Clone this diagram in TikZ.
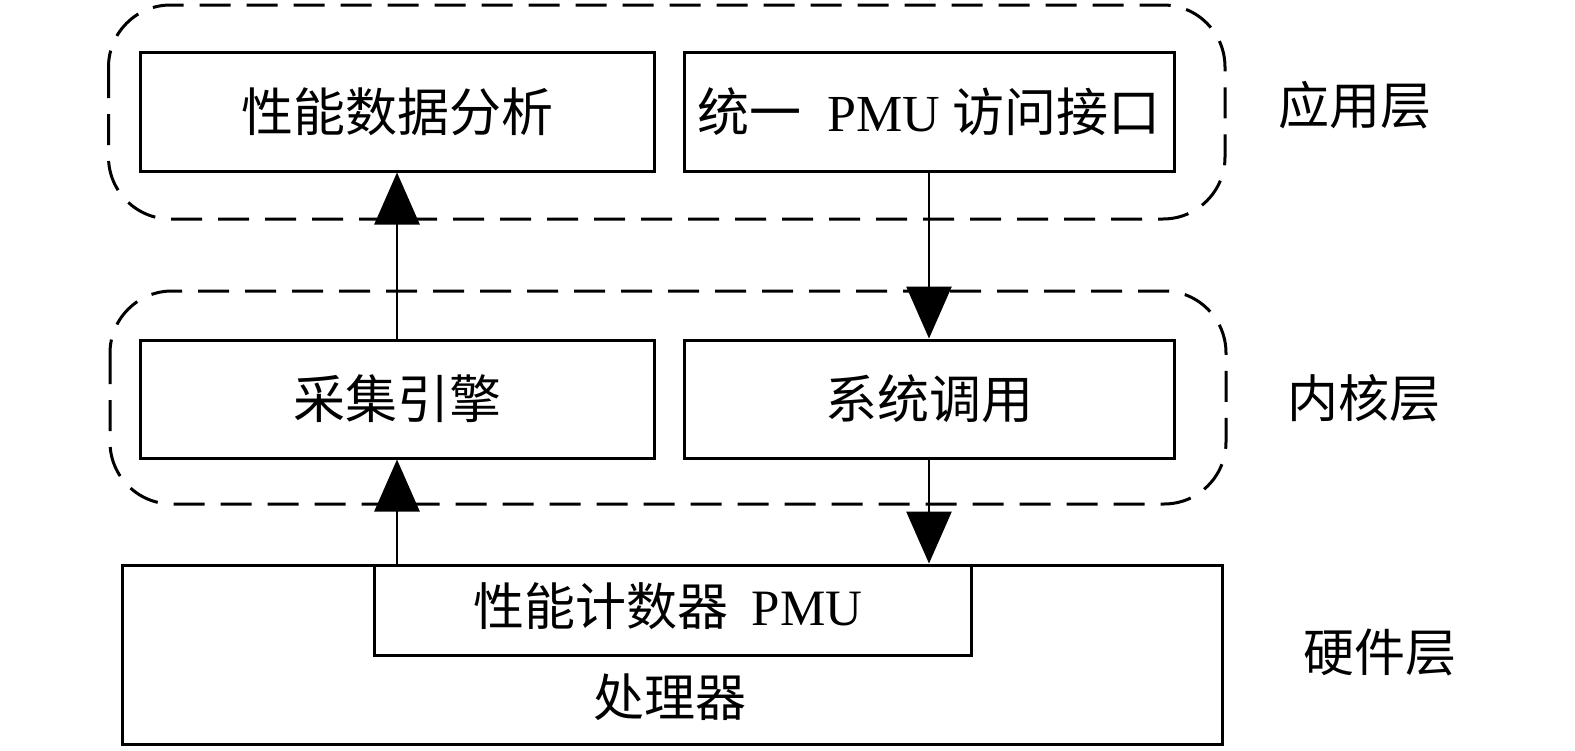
\documentclass[tikz,border=0pt]{standalone}
\usepackage{fontspec}
\setmainfont{Liberation Serif}
\newfontfamily\cjk{Noto Sans CJK SC}
\usetikzlibrary{arrows.meta}
\begin{document}
\begin{tikzpicture}[x=1pt,y=-1pt,
  box/.style={draw,line width=3pt,inner sep=0pt,font=\fontsize{52}{60}\selectfont},
  layer/.style={draw,line width=3pt,dash pattern=on 31pt off 16pt,rounded corners=62pt},
  lbl/.style={inner sep=0pt,font=\fontsize{51}{60}\selectfont\cjk},
  conn/.style={line width=2.8pt,-{Triangle[width=45pt,length=52pt]}}]
\useasboundingbox (0,0) rectangle (1575,750);
% layer groups
\draw[layer] (108.5,5) rectangle (1225,219);
\draw[layer] (110,291) rectangle (1226,504);
% boxes
\node[box,minimum width=514pt,minimum height=119pt] (ana) at (397,111.5) {\cjk 性能数据分析};
\node[box,minimum width=490pt,minimum height=119pt] (api) at (929,111.5) {{\cjk 统一}\ \ PMU {\cjk 访问接口}};
\node[box,minimum width=514pt,minimum height=118pt] (eng) at (397,399) {\cjk 采集引擎};
\node[box,minimum width=490pt,minimum height=118pt] (sys) at (929,399) {\cjk 系统调用};
\node[box,minimum width=1100pt,minimum height=179pt] (cpu) at (672,654.5) {};
\node[box,minimum width=597pt,minimum height=90pt] (pmu) at (672.5,610) {};
\node[lbl] (pmut) at (668,606) {性能计数器\ \ \fontspec{Liberation Serif}PMU};
\node[lbl] (cput) at (670,697) {处理器};
% layer labels
\node[lbl] (l1) at (1355,105) {应用层};
\node[lbl] (l2) at (1364,398) {内核层};
\node[lbl] (l3) at (1380,652) {硬件层};
% connectors
\draw[conn] (eng.north) -- (ana.south);
\draw[conn] (api.south) -- (sys.north);
\draw[conn] (eng.south |- pmu.north) -- (eng.south);
\draw[conn] (sys.south) -- (sys.south |- pmu.north);
\end{tikzpicture}
\end{document}
